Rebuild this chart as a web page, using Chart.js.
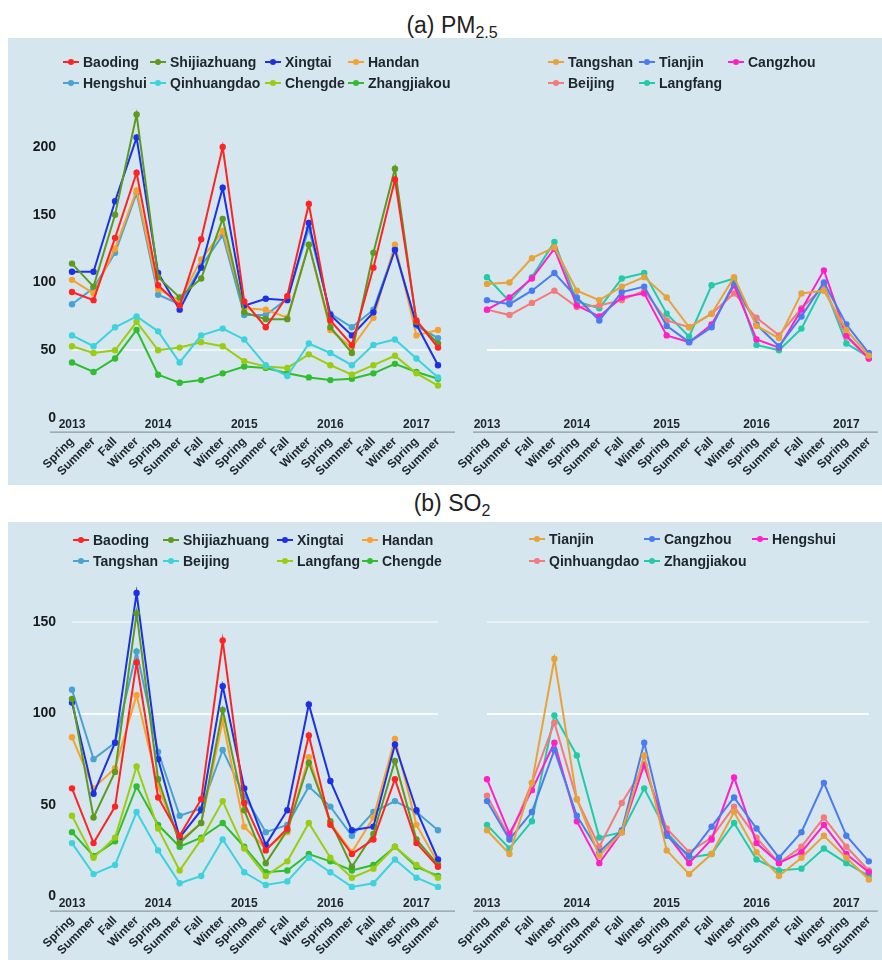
<!DOCTYPE html>
<html>
<head>
<meta charset="utf-8">
<script src="https://cdn.jsdelivr.net/npm/chart.js@4"></script>
<style>
  html, body { margin: 0; padding: 0; background: #fff; }
  body { width: 882px; height: 960px; position: relative; overflow: hidden;
         font-family: "Liberation Sans", Arial, sans-serif; }
  .title { position: absolute; left: 0; width: 904px; text-align: center;
           font-size: 23px; line-height: 26px; color: #222; }
  .title sub { font-size: 16px; vertical-align: -5px; line-height: 0; }
  .panel { position: absolute; left: 8px; width: 874px; background: #d5e6ee; }
  .box { position: absolute; }
  .leg { position: absolute; height: 16px; line-height: 16px; white-space: nowrap;
         font-weight: bold; font-size: 14px; color: #1e262c; }
  .leg .mk { position: absolute; left: 0; top: 7px; width: 16px; height: 2px; }
  .leg .mk i { position: absolute; left: 5px; top: -2px; width: 6px; height: 6px; border-radius: 50%; }
  .leg span { position: absolute; left: 20px; top: 0; }
</style>
</head>
<body>

<div class="title" style="top:12px">(a) PM<sub>2.5</sub></div>
<div class="panel" style="top:38px;height:447px"></div>
<div class="title" style="top:490px">(b) SO<sub>2</sub></div>
<div class="panel" style="top:522px;height:438px"></div>

<div class="box" style="left:8px;top:38px"><canvas id="aL" width="447" height="447"></canvas></div>
<div class="box" style="left:455px;top:38px"><canvas id="aR" width="427" height="447"></canvas></div>
<div class="box" style="left:8px;top:522px"><canvas id="bL" width="447" height="438"></canvas></div>
<div class="box" style="left:455px;top:522px"><canvas id="bR" width="427" height="438"></canvas></div>

<script>
// ---- categories ----
const seasons = ['Spring','Summer','Fall','Winter','Spring','Summer','Fall','Winter','Spring',
                 'Summer','Fall','Winter','Spring','Summer','Fall','Winter','Spring','Summer'];
const years = ['2013','2014','2015','2016','2017'];

// ---- y tick values ----
const pmTicks = [0, 50, 100, 150, 200];
const soTicks = [0, 50, 100, 150];

// ---- PM2.5, left group ----
const pmBaoding      = [93, 87, 133, 181, 98, 83, 132, 200, 86, 67, 90, 158, 72, 54, 111, 176, 72, 52];
const pmShijiazhuang = [114, 97, 150, 224, 104, 89, 103, 147, 78, 73, 73, 128, 67, 48, 122, 184, 71, 55];
const pmXingtai      = [108, 108, 160, 207, 107, 80, 111, 170, 83, 88, 87, 144, 76, 61, 78, 124, 69, 39];
const pmHandan       = [102, 92, 125, 168, 95, 87, 117, 138, 81, 80, 74, 128, 65, 52, 74, 128, 61, 65];
const pmHengshui     = [84, 96, 122, 166, 91, 84, 112, 135, 76, 76, 88, 140, 77, 67, 80, 125, 68, 59];
const pmQinhuangdao  = [61, 53, 67, 75, 64, 41, 61, 66, 58, 39, 31, 55, 48, 39, 54, 58, 44, 30];
const pmChengde      = [53, 48, 50, 71, 50, 52, 56, 53, 42, 38, 37, 47, 39, 32, 39, 46, 33, 24];
const pmZhangjiakou  = [41, 34, 44, 65, 32, 26, 28, 33, 38, 37, 33, 30, 28, 29, 33, 40, 34, 29];

// ---- PM2.5, right group ----
const pmTangshan = [99, 100, 118, 126, 94, 87, 97, 104, 89, 67, 77, 104, 68, 59, 92, 94, 65, 46];
const pmTianjin  = [87, 84, 94, 107, 89, 72, 93, 97, 68, 56, 67, 100, 69, 53, 75, 100, 69, 48];
const pmCangzhou = [80, 89, 103, 125, 83, 75, 89, 92, 61, 56, 69, 98, 58, 52, 80, 109, 61, 44];
const pmBeijing  = [80, 76, 85, 94, 82, 83, 87, 94, 72, 67, 77, 92, 74, 61, 81, 97, 60, 44];
const pmLangfang = [104, 86, 104, 130, 86, 81, 103, 107, 77, 60, 98, 103, 54, 50, 66, 98, 55, 45];

// ---- SO2, left group ----
const soBaoding      = [59, 29, 49, 128, 54, 33, 53, 140, 51, 25, 37, 88, 39, 23, 31, 64, 29, 16];
const soShijiazhuang = [108, 43, 68, 155, 64, 29, 40, 102, 47, 18, 36, 73, 41, 16, 34, 74, 31, 17];
const soXingtai      = [106, 56, 84, 166, 75, 32, 47, 115, 59, 28, 47, 105, 63, 36, 38, 83, 47, 20];
const soHandan       = [87, 59, 70, 110, 60, 30, 40, 96, 38, 26, 35, 76, 40, 24, 43, 86, 39, 18];
const soTangshan     = [113, 75, 84, 134, 79, 44, 48, 80, 55, 35, 39, 60, 49, 33, 46, 52, 46, 36];
const soBeijing      = [29, 12, 17, 46, 25, 7, 11, 31, 13, 6, 8, 21, 13, 5, 7, 20, 10, 5];
const soLangfang     = [44, 21, 32, 71, 37, 14, 31, 52, 26, 11, 19, 40, 21, 10, 15, 27, 17, 10];
const soChengde      = [35, 22, 30, 60, 39, 27, 32, 40, 27, 13, 14, 23, 19, 14, 17, 27, 16, 11];

// ---- SO2, right group ----
const soTianjin     = [36, 23, 62, 130, 53, 22, 35, 77, 25, 12, 23, 46, 24, 11, 21, 33, 21, 9];
const soCangzhou    = [52, 31, 46, 80, 44, 24, 36, 84, 33, 22, 38, 54, 37, 21, 35, 62, 33, 19];
const soHengshui    = [64, 34, 58, 84, 41, 18, 35, 72, 34, 18, 31, 65, 29, 18, 24, 39, 23, 13];
const soQinhuangdao = [55, 32, 62, 95, 53, 27, 51, 71, 37, 24, 32, 49, 32, 18, 27, 43, 27, 14];
const soZhangjiakou = [39, 26, 41, 99, 77, 32, 35, 59, 35, 21, 23, 40, 20, 14, 15, 26, 18, 11];

// ---- palette ----
const C = {
  red: '#ff2424', olive: '#5e9a1f', blue: '#1c30e6', orange: '#f9a12e',
  steel: '#4aa2d2', cyan: '#3ed2dc', lime: '#9ccc12', green: '#30bd30',
  gold: '#e8a23a', corn: '#4a7cf0', magenta: '#ff20c8', salmon: '#f47b7b', teal: '#22cba8'
};

// series lists: [name, values, colour]
const panelAL = [
  ['Baoding', pmBaoding, C.red], ['Shijiazhuang', pmShijiazhuang, C.olive],
  ['Xingtai', pmXingtai, C.blue], ['Handan', pmHandan, C.orange],
  ['Hengshui', pmHengshui, C.steel], ['Qinhuangdao', pmQinhuangdao, C.cyan],
  ['Chengde', pmChengde, C.lime], ['Zhangjiakou', pmZhangjiakou, C.green]
];
const panelAR = [
  ['Tangshan', pmTangshan, C.gold], ['Tianjin', pmTianjin, C.corn],
  ['Cangzhou', pmCangzhou, C.magenta], ['Beijing', pmBeijing, C.salmon],
  ['Langfang', pmLangfang, C.teal]
];
const panelBL = [
  ['Baoding', soBaoding, C.red], ['Shijiazhuang', soShijiazhuang, C.olive],
  ['Xingtai', soXingtai, C.blue], ['Handan', soHandan, C.orange],
  ['Tangshan', soTangshan, C.steel], ['Beijing', soBeijing, C.cyan],
  ['Langfang', soLangfang, C.lime], ['Chengde', soChengde, C.green]
];
const panelBR = [
  ['Tianjin', soTianjin, C.gold], ['Cangzhou', soCangzhou, C.corn],
  ['Hengshui', soHengshui, C.magenta], ['Qinhuangdao', soQinhuangdao, C.salmon],
  ['Zhangjiakou', soZhangjiakou, C.teal]
];

// axis line running a little past the plotted range, plus year captions
// centred on each year's first season just above that line
const timeAxis = {
  id: 'timeAxis',
  afterDatasetsDraw(chart, args, opts) {
    const x = chart.scales.x, ctx = chart.ctx, a = chart.chartArea;
    ctx.save();
    ctx.strokeStyle = '#7d878c';
    ctx.lineWidth = 1;
    ctx.beginPath();
    ctx.moveTo(a.left - opts.extL, a.bottom + 0.5);
    ctx.lineTo(a.right + opts.extR, a.bottom + 0.5);
    ctx.stroke();
    ctx.font = 'bold 12px "Liberation Sans", Arial, sans-serif';
    ctx.fillStyle = '#1e262c';
    ctx.textAlign = 'center';
    ctx.textBaseline = 'bottom';
    years.forEach((y, i) => {
      ctx.fillText(y, x.getPixelForTick(i * 4), a.bottom - 1);
    });
    ctx.restore();
  }
};

function legend(series, cols, rows, perRow) {
  series.forEach(([name, , color], i) => {
    const d = document.createElement('div');
    d.className = 'leg';
    d.style.left = cols[i % perRow] + 'px';
    d.style.top = (rows[Math.floor(i / perRow)] - 8) + 'px';
    d.innerHTML = '<div class="mk" style="background:' + color + '"><i style="background:' +
                  color + '"></i></div><span>' + name + '</span>';
    document.body.appendChild(d);
  });
}

function draw(id, series, o) {
  const cv = document.getElementById(id);
  const W = cv.width, H = cv.height;
  new Chart(cv, {
    type: 'line',
    data: {
      labels: seasons,
      datasets: series.map(([name, vals, color]) => ({
        label: name, data: vals, borderColor: color, backgroundColor: color,
        borderWidth: 2, pointRadius: 3.2, pointBorderWidth: 0, tension: 0
      }))
    },
    options: {
      responsive: false, animation: false,
      layout: { padding: { top: o.top, right: W - o.right, left: 0, bottom: 0 } },
      plugins: { legend: { display: false }, tooltip: { enabled: false },
                 timeAxis: { extL: o.extL, extR: W - o.right } },
      scales: {
        x: {
          type: 'category', offset: false,
          grid: { display: false, drawTicks: false },
          border: { display: false },
          ticks: { autoSkip: false, minRotation: 45, maxRotation: 45, padding: 3,
                   color: '#1e262c', font: { size: 12, weight: 'bold', family: '"Liberation Sans", Arial, sans-serif' } },
          afterFit: s => { s.height = H - o.bottom; }
        },
        y: {
          min: o.min, max: o.max,
          afterBuildTicks: s => { s.ticks = o.ticks.map(v => ({ value: v })); },
          grid: { drawTicks: false, lineWidth: 2,
                  color: c => (o.grid[c.tick.value] || 'rgba(0,0,0,0)') },
          border: { display: false },
          ticks: { display: o.showY, padding: 16, color: '#1a1a1a',
                   font: { size: 14, weight: 'bold', family: '"Liberation Sans", Arial, sans-serif' } },
          afterFit: s => { s.width = o.left; }
        }
      }
    },
    plugins: [timeAxis]
  });
}

// PM2.5: 0 at page y 418, 1.355 px per unit; canvas top at 38
draw('aL', panelAL, { left: 64, right: 430, top: 68.4, bottom: 393.6, min: -10, max: 230, extL: 22,
  ticks: pmTicks, showY: true, grid: { 50: 'rgba(255,255,255,0.55)' } });
draw('aR', panelAR, { left: 32, right: 418, top: 68.4, bottom: 393.6, min: -10, max: 230, extL: 14,
  ticks: pmTicks, showY: false, grid: { 50: 'rgba(255,255,255,0.95)' } });
// SO2: 0 at page y 896, 1.825 px per unit; canvas top at 522
draw('bL', panelBL, { left: 64, right: 430, top: 45.5, bottom: 388.6, min: -8, max: 180, extL: 22,
  ticks: soTicks, showY: true, grid: { 100: 'rgba(255,255,255,0.85)', 150: 'rgba(255,255,255,0.45)' } });
draw('bR', panelBR, { left: 32, right: 418, top: 45.5, bottom: 388.6, min: -8, max: 180, extL: 14,
  ticks: soTicks, showY: false, grid: { 100: 'rgba(255,255,255,0.9)', 150: 'rgba(255,255,255,0.45)' } });

legend(panelAL, [63, 150, 265, 348], [62, 83], 4);
legend(panelAR, [548, 639, 728], [62, 83], 3);
legend(panelBL, [73, 163, 277, 362], [540, 561], 4);
legend(panelBR, [529, 644, 752], [539, 561], 3);
</script>
</body>
</html>
